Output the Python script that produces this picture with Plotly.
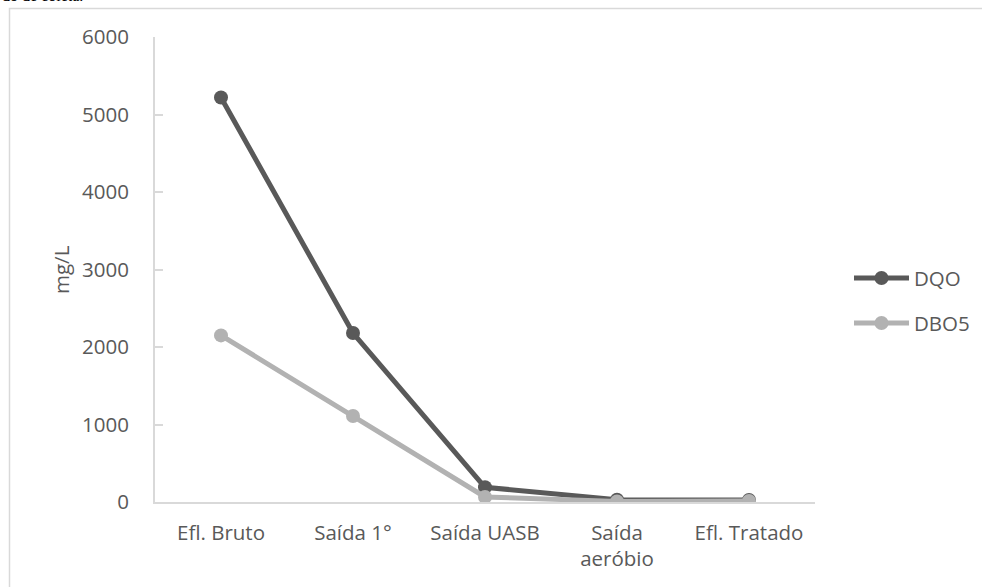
import plotly.graph_objects as go

# Stages of the treatment plant
categories = ["Efl. Bruto", "Saída 1°", "Saída UASB", "Saída<br>aeróbio", "Efl. Tratado"]

# Concentrations (mg/L)
dqo = [5220, 2180, 190, 30, 25]
dbo5 = [2150, 1110, 65, 8, 12]

y_ticks = [0, 1000, 2000, 3000, 4000, 5000, 6000]

series_names = ["DQO", "DBO5"]
series_colors = ["#595959", "#b2b2b2"]

FONT = "'Open Sans', sans-serif"
FSIZE = 20.5
TXT = "#595959"
AXIS = "#d9d9d9"

fig = go.Figure()
for name, vals, col in zip(series_names, [dqo, dbo5], series_colors):
    fig.add_trace(go.Scatter(
        x=categories, y=vals, name=name, mode="lines+markers",
        line=dict(color=col, width=5),
        marker=dict(color=col, size=14),
        showlegend=False,
    ))

# plot area: x 155..815, y 37..502 px
L, R, T, B = 155, 815, 37, 502
W, H = 982, 587
pw, ph = R - L, B - T


def px(xp):
    return (xp - L) / pw


def py(yp):
    return (B - yp) / ph


shapes = [
    dict(type="rect", xref="paper", yref="paper",
         x0=px(9.5), x1=px(984), y0=py(595), y1=py(8.5),
         line=dict(color="#d9d9d9", width=1.5), fillcolor="rgba(0,0,0,0)",
         layer="below"),
]
annotations = [
    dict(text="mg/L", xref="paper", yref="paper", x=px(61), y=py(270),
         xanchor="center", yanchor="middle", textangle=-90, showarrow=False,
         font=dict(family=FONT, size=FSIZE, color=TXT)),
    # caption line of the page above the chart, only its lower edge shows
    dict(text="do de coleta.", xref="paper", yref="paper", x=px(0), y=py(6),
         xanchor="left", yanchor="bottom", showarrow=False,
         font=dict(family="Liberation Serif, serif", size=16, color="black")),
]

# legend: line sample with a centred marker, label to the right
legend_rows = [278, 323]
for name, col, yrow in zip(series_names, series_colors, legend_rows):
    shapes.append(dict(type="line", xref="paper", yref="paper",
                       x0=px(854), x1=px(909), y0=py(yrow), y1=py(yrow),
                       line=dict(color=col, width=5)))
    shapes.append(dict(type="circle", xref="paper", yref="paper",
                       x0=px(874.5), x1=px(888.5), y0=py(yrow + 7), y1=py(yrow - 7),
                       line=dict(color=col, width=0), fillcolor=col))
    annotations.append(dict(text=name, xref="paper", yref="paper",
                            x=px(912), y=py(yrow), xanchor="left", yanchor="middle",
                            showarrow=False,
                            font=dict(family=FONT, size=FSIZE, color=TXT)))

fig.update_layout(
    width=W, height=H,
    margin=dict(l=L, r=W - R, t=T, b=H - B, pad=0),
    paper_bgcolor="white", plot_bgcolor="white",
    font=dict(family=FONT, size=FSIZE, color=TXT),
    showlegend=False,
    xaxis=dict(
        type="category", showgrid=False, zeroline=False,
        showline=True, linecolor=AXIS, linewidth=2,
        ticks="", ticklabelstandoff=11,
        tickfont=dict(family=FONT, size=FSIZE, color=TXT),
        range=[-0.5, 4.5],
    ),
    yaxis=dict(
        range=[0, 6000], tickvals=y_ticks,
        showgrid=False, zeroline=False,
        showline=True, linecolor=AXIS, linewidth=2,
        ticks="inside", ticklen=8, tickcolor=AXIS, tickwidth=1.5,
        ticklabelstandoff=20,
        tickfont=dict(family=FONT, size=FSIZE, color=TXT),
    ),
    shapes=shapes,
    annotations=annotations,
)

fig.write_html("out.html")
